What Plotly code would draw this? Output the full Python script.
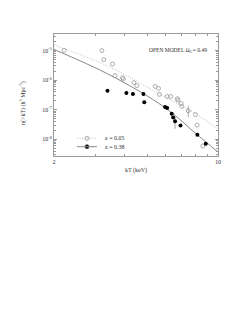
import plotly.graph_objects as go
import numpy as np

# z = 0.05 (open circles)
kt_low = [2.21, 3.20, 3.26, 3.55, 3.64, 3.92, 3.95, 4.38, 4.51, 5.40, 5.58, 5.63,
          6.07, 6.29, 6.71, 6.74, 6.96, 7.01, 7.47, 8.02, 8.15, 8.61]
n_low = [1.01e-5, 9.9e-6, 4.9e-6, 3.5e-6, 1.41e-6, 1.2e-6, 1.09e-6, 8.2e-7, 6.5e-7,
         6.1e-7, 5.25e-7, 3.3e-7, 2.8e-7, 2.8e-7, 2.35e-7, 2.1e-7, 1.63e-7, 1.29e-7,
         9.2e-8, 6.8e-8, 3.0e-8, 5.9e-9]
err_low_up = [0]*18 + [4.4e-8, 0, 0, 0]
err_low_dn = [0]*18 + [3.6e-8, 0, 0, 0]

# z = 0.38 (filled circles)
kt_high = [3.38, 4.07, 4.34, 4.81, 4.85, 5.95, 6.07, 6.35, 6.44, 6.56, 6.92, 8.17, 8.87]
n_high = [4.4e-7, 3.65e-7, 3.4e-7, 3.4e-7, 1.77e-7, 1.23e-7, 1.14e-7, 7.3e-8, 5.5e-8,
          4.1e-8, 2.9e-8, 1.42e-8, 7.1e-9]
err_high_up = [0]*9 + [1.5e-8, 0, 0, 0]
err_high_dn = [0]*9 + [1.83e-8, 0, 0, 0]

# model curves
kt_model_low = [2.0, 3.46, 5.93, 7.95, 10.0]
n_model_low = [1.53e-5, 2.77e-6, 2.69e-7, 7.7e-8, 2.2e-8]
kt_model_high = [2.0, 3.46, 5.93, 8.18, 10.0]
n_model_high = [1.08e-5, 1.49e-6, 1.19e-7, 1.4e-8, 3.7e-9]

ytick_vals = [1e-8, 1e-7, 1e-6, 1e-5]
ytick_text = ["10<sup>-8</sup>", "10<sup>-7</sup>", "10<sup>-6</sup>", "10<sup>-5</sup>"]
xtick_vals = [2, 10]
xtick_text = ["2", "10"]
xminor = [3, 4, 5, 6, 7, 8, 9]
yminor = [m * 10.0**e for e in range(-9, -4) for m in range(2, 10)]

FONT = "Liberation Serif"
TXT = "#333333"
fig = go.Figure()
fig.add_trace(go.Scatter(x=kt_model_low, y=n_model_low, mode="lines",
                         line=dict(color="#bbbbbb", width=1, dash="1px,1.5px", shape="spline"),
                         showlegend=False, hoverinfo="skip"))
fig.add_trace(go.Scatter(x=kt_model_high, y=n_model_high, mode="lines",
                         line=dict(color="#888888", width=1, shape="spline"),
                         showlegend=False, hoverinfo="skip"))
fig.add_trace(go.Scatter(x=kt_low, y=n_low, mode="markers", name="z = 0.05",
                         marker=dict(symbol="circle-open", size=4, color="#999999", line=dict(width=0.8)),
                         error_y=dict(type="data", array=err_low_up, arrayminus=err_low_dn,
                                      color="#999999", thickness=0.8, width=0),
                         showlegend=False))
fig.add_trace(go.Scatter(x=kt_high, y=n_high, mode="markers", name="z = 0.38",
                         marker=dict(symbol="circle", size=4, color="black"),
                         error_y=dict(type="data", array=err_high_up, arrayminus=err_high_dn,
                                      color="#888888", thickness=0.8, width=0),
                         showlegend=False))

W, H = 250, 323
L, R, T, B = 54, 218, 34, 156
def px(xp): return (xp - L) / (R - L)
def py(yp): return (B - yp) / (B - T)

legend_rows = [("z = 0.05", "#bbbbbb", "1px,1.5px", 138.3),
               ("z = 0.38", "#888888", "solid", 146.7)]
for label, lc, dash, yp in legend_rows:
    fig.add_shape(type="line", xref="paper", yref="paper", x0=px(77), x1=px(97),
                  y0=py(yp), y1=py(yp), line=dict(color=lc, width=1, dash=dash))
    fig.add_annotation(xref="paper", yref="paper", x=px(103), y=py(yp), text=label,
                       showarrow=False, xanchor="left", yanchor="middle",
                       font=dict(family=FONT, size=6, color=TXT))
fig.add_trace(go.Scatter(x=[10**(np.log10(2) + (87 - L) / (R - L) * np.log10(5))] * 2,
                         y=[10**(-8.564 + py(138.3) * 4.121), 10**(-8.564 + py(146.7) * 4.121)],
                         mode="markers",
                         marker=dict(symbol=["circle-open", "circle"], size=4,
                                     color=["#999999", "black"], line=dict(width=0.8)),
                         showlegend=False, hoverinfo="skip"))

fig.add_annotation(xref="paper", yref="paper", x=px(147), y=py(50),
                   text="OPEN MODEL Ω<sub>0</sub> = 0.49",
                   showarrow=False, xanchor="left", yanchor="middle",
                   font=dict(family=FONT, size=5.5, color=TXT))
fig.add_annotation(xref="paper", yref="paper", x=(22 - L) / (R - L), y=py(103),
                   text="n(>kT) (h<sup>3</sup> Mpc<sup>-3</sup>)", textangle=-90,
                   showarrow=False, xanchor="center", yanchor="middle",
                   font=dict(family=FONT, size=6, color=TXT))

axis_common = dict(showline=True, linecolor="#999999", linewidth=1, mirror="ticks",
                   ticks="inside", ticklen=3, tickcolor="#999999", showgrid=False, zeroline=False,
                   tickfont=dict(family=FONT, size=6, color=TXT))
fig.update_xaxes(type="log", range=[np.log10(2), 1.0], tickvals=xtick_vals, ticktext=xtick_text,
                 minor=dict(tickvals=xminor, ticks="inside", ticklen=2, tickcolor="#999999", showgrid=False),
                 title=dict(text="kT (keV)", font=dict(family=FONT, size=6, color=TXT), standoff=3),
                 **axis_common)
fig.update_yaxes(type="log", range=[-8.564, -4.443], tickvals=ytick_vals, ticktext=ytick_text,
                 minor=dict(tickvals=yminor, ticks="inside", ticklen=2, tickcolor="#999999", showgrid=False),
                 **axis_common)
fig.update_layout(width=W, height=H, margin=dict(l=L, r=W - R, t=T, b=H - B),
                  plot_bgcolor="white", paper_bgcolor="white", showlegend=False)
fig.write_html("out.html")
